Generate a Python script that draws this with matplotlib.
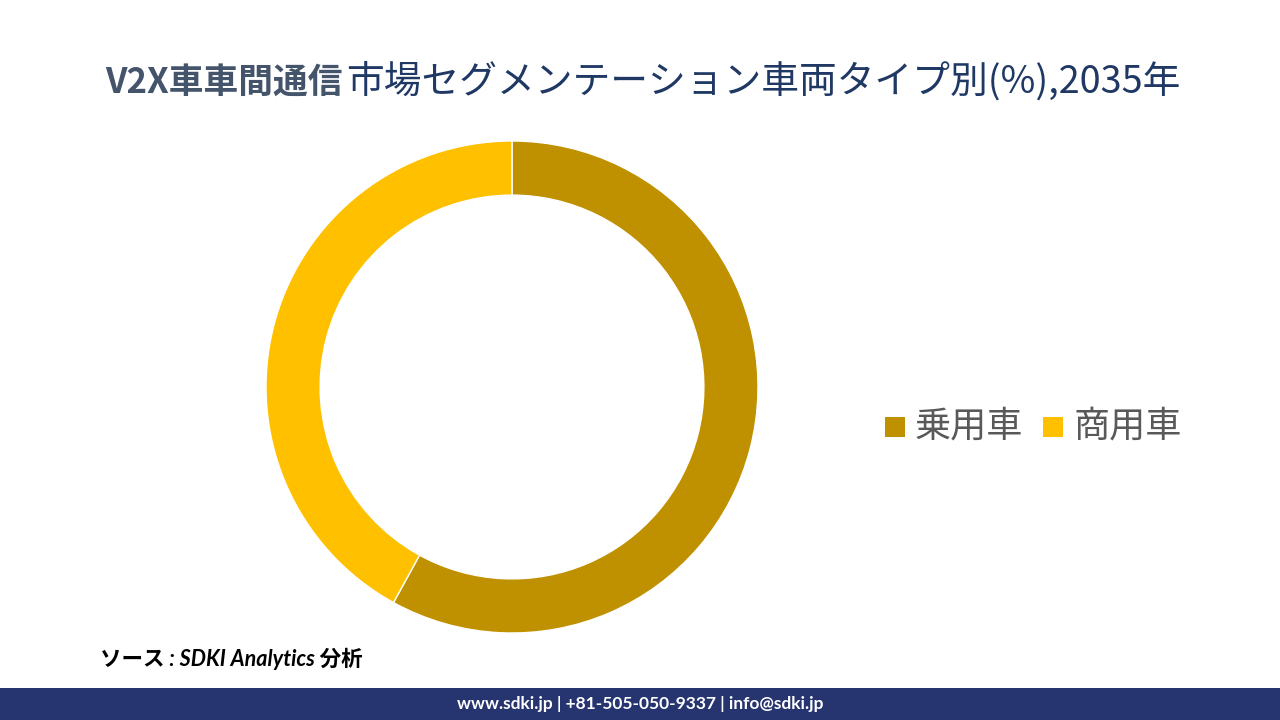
import matplotlib
matplotlib.use("Agg")
import matplotlib.pyplot as plt
from matplotlib.patches import Rectangle

plt.rcParams['font.family'] = ['Noto Sans CJK JP', 'DejaVu Sans']

categories = ['乗用車', '商用車']
values = [58, 42]
colors = ['#BF9000', '#FFC000']
title_a = 'V2X車車間通信'
title_b = '市場セグメンテーション車両タイプ別(%),2035年'
source_text = 'ソース : SDKI Analytics 分析'
footer_text = 'www.sdki.jp | +81-505-050-9337 | info@sdki.jp'

fig = plt.figure(figsize=(12.8, 7.2), dpi=100)
fig.patch.set_facecolor('white')

# donut: center (512,387), outer radius 246 px
r_px = 246
ax = fig.add_axes([(512 - r_px) / 1280, (720 - 387 - r_px) / 720, 2 * r_px / 1280, 2 * r_px / 720])
ax.pie(values, colors=colors, startangle=90, counterclock=False,
       wedgeprops=dict(width=0.22, edgecolor='white', linewidth=1))
ax.set_aspect('equal')
ax.set_xlim(-1, 1)
ax.set_ylim(-1, 1)
ax.axis('off')

# title
t1 = fig.text(105 / 1280, 1 - 82 / 720, title_a, fontsize=25, fontweight='bold',
              color='#44546A', va='center', ha='left')
fig.canvas.draw()
bb = t1.get_window_extent()
fig.text(bb.x1 / 1280 + 0.003, 1 - 82 / 720, title_b, fontsize=27.2,
         color='#1F3864', va='center', ha='left')

# legend
leg_y = 1 - 427 / 720
x = 885
for cat, col in zip(categories, colors):
    fig.patches.append(Rectangle((x / 1280, leg_y - 10 / 720), 20 / 1280, 20 / 720,
                                 transform=fig.transFigure, facecolor=col, edgecolor='none'))
    fig.text((x + 30) / 1280, leg_y, cat, fontsize=26, color='#595959', va='center', ha='left')
    x += 158

# source
fig.text(100 / 1280, 1 - 659 / 720, source_text, fontsize=15.5, style='italic',
         fontweight='bold', color='black', va='center', ha='left',
         family=['Lato', 'Noto Sans CJK JP'])

# footer bar
fig.patches.append(Rectangle((0, 0), 1, 32 / 720, transform=fig.transFigure,
                             facecolor='#263470', edgecolor='none'))
fig.text(640 / 1280, 16 / 720, footer_text, fontsize=12.5, fontweight='bold',
         color='white', va='center', ha='center', family=['Lato', 'DejaVu Sans'])

fig.savefig('out.png', dpi=100, facecolor='white')
